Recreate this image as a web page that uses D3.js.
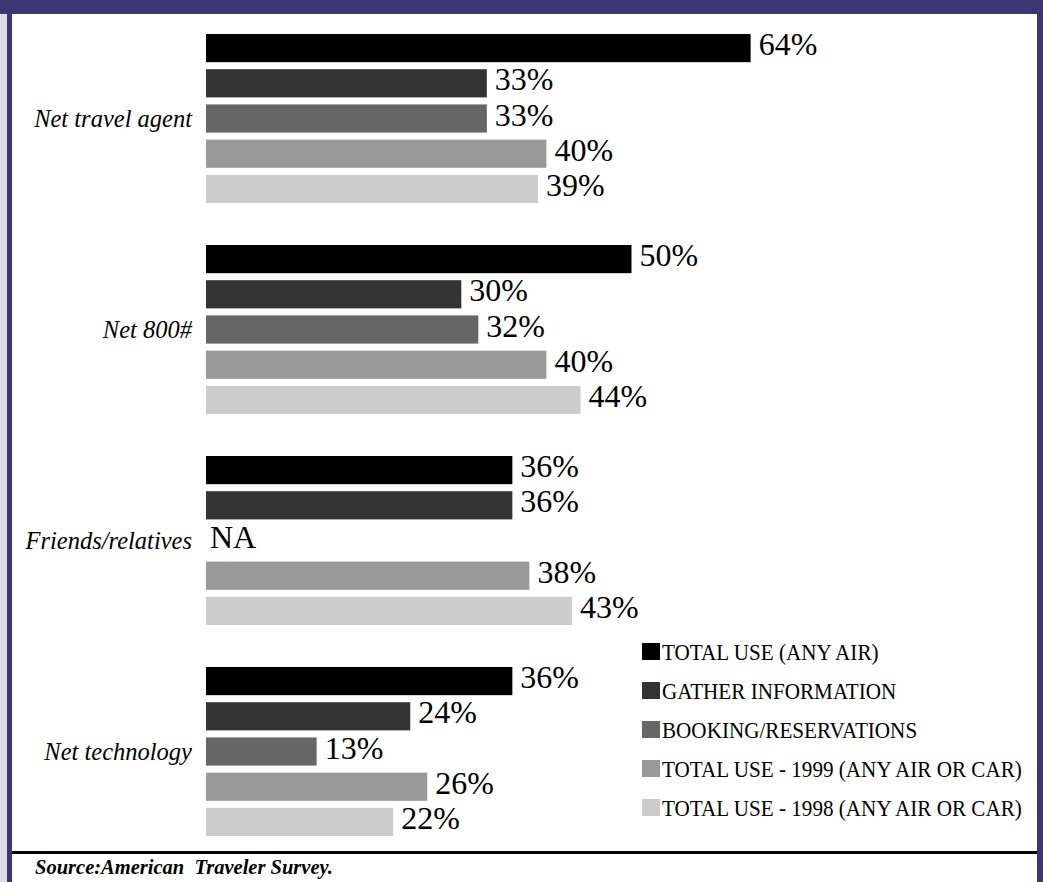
<!DOCTYPE html>
<html>
<head>
<meta charset="utf-8">
<script src="https://cdn.jsdelivr.net/npm/d3@7"></script>
<style>
  html, body { margin: 0; padding: 0; background: #fff; }
  svg { display: block; }
</style>
</head>
<body>
<svg id="chart" width="1043" height="882"></svg>
<script>
// Travel information sources, share of respondents (%)
const categories = ["Net travel agent", "Net 800#", "Friends/relatives", "Net technology"];
const seriesNames = [
  "TOTAL USE (ANY AIR)",
  "GATHER INFORMATION",
  "BOOKING/RESERVATIONS",
  "TOTAL USE - 1999 (ANY AIR OR CAR)",
  "TOTAL USE - 1998 (ANY AIR OR CAR)"
];
const totalUseAir   = [64, 50, 36, 36];
const gatherInfo    = [33, 30, 36, 24];
const booking       = [33, 32, null, 13];   // null = not available
const totalUse1999  = [40, 40, 38, 26];
const totalUse1998  = [39, 44, 43, 22];
const seriesColors  = ["#000000", "#333333", "#666666", "#999999", "#cccccc"];
const sourceNote = "Source:American  Traveler Survey.";

const seriesValues = [totalUseAir, gatherInfo, booking, totalUse1999, totalUse1998];

const svg = d3.select("#chart");
const W = 1043, H = 882;
const navy = "#3c3672";
const serif = "'Liberation Serif', 'Times New Roman', serif";

// frame
svg.append("rect").attr("x", 0).attr("y", 0).attr("width", W).attr("height", H).attr("fill", "#fff");
svg.append("rect").attr("x", 0).attr("y", 14).attr("width", 7).attr("height", H - 14).attr("fill", "#dcdbe8");
svg.append("rect").attr("x", 0).attr("y", 0).attr("width", W).attr("height", 14).attr("fill", navy);
svg.append("rect").attr("x", 7).attr("y", 0).attr("width", 5).attr("height", H).attr("fill", navy);
svg.append("rect").attr("x", 1037).attr("y", 0).attr("width", 6).attr("height", H).attr("fill", navy);
svg.append("rect").attr("x", 12).attr("y", 851).attr("width", 1025).attr("height", 3).attr("fill", "#000");

// scales
const x = d3.scaleLinear().domain([0, 100]).range([206, 1057]);
const y0 = d3.scaleBand().domain(categories).range([34, 34 + 4 * 211]).paddingInner(0).paddingOuter(0);
const y1 = d3.scaleBand().domain(d3.range(seriesNames.length)).range([0, y0.bandwidth()])
  .paddingInner(0.2).paddingOuter(0.596).align(0);

const rows = [];
categories.forEach((c, ci) => {
  seriesValues.forEach((vals, si) => {
    rows.push({ cat: c, s: si, v: vals[ci] });
  });
});

const g = svg.append("g");

// bars
g.selectAll("rect.bar")
  .data(rows.filter(d => d.v != null))
  .join("rect")
  .attr("class", "bar")
  .attr("x", x(0))
  .attr("y", d => y0(d.cat) + y1(d.s))
  .attr("width", d => x(d.v) - x(0))
  .attr("height", y1.bandwidth())
  .attr("fill", d => seriesColors[d.s]);

// value labels
g.selectAll("text.val")
  .data(rows)
  .join("text")
  .attr("class", "val")
  .attr("x", d => d.v != null ? x(d.v) + 8 : x(0) + 4)
  .attr("y", d => y0(d.cat) + y1(d.s) + y1.bandwidth() / 2 + 7)
  .attr("font-family", serif)
  .attr("font-size", 32)
  .attr("fill", "#000")
  .text(d => d.v != null ? d.v + "%" : "NA");

// category labels
g.selectAll("text.cat")
  .data(categories)
  .join("text")
  .attr("class", "cat")
  .attr("x", 192)
  .attr("y", c => y0(c) + y1(2) + y1.bandwidth() / 2 + 8)
  .attr("text-anchor", "end")
  .attr("font-family", serif)
  .attr("font-style", "italic")
  .attr("font-size", 24.5)
  .attr("fill", "#000")
  .text(c => c);

// legend
const legend = svg.append("g").attr("transform", "translate(642,652)");
const lg = legend.selectAll("g")
  .data(seriesNames)
  .join("g")
  .attr("transform", (d, i) => `translate(0,${i * 39})`);
lg.append("rect")
  .attr("x", 0).attr("y", -9)
  .attr("width", 18).attr("height", 17)
  .attr("fill", (d, i) => seriesColors[i]);
lg.append("text")
  .attr("transform", "translate(20,8) scale(0.92,1)")
  .attr("font-family", serif)
  .attr("font-size", 23)
  .attr("fill", "#000")
  .text(d => d);

// source note
svg.append("text")
  .attr("x", 35).attr("y", 874)
  .attr("font-family", serif)
  .attr("font-style", "italic")
  .attr("font-weight", "bold")
  .attr("font-size", 20.5)
  .attr("xml:space", "preserve")
  .style("white-space", "pre")
  .text(sourceNote);
</script>
</body>
</html>
